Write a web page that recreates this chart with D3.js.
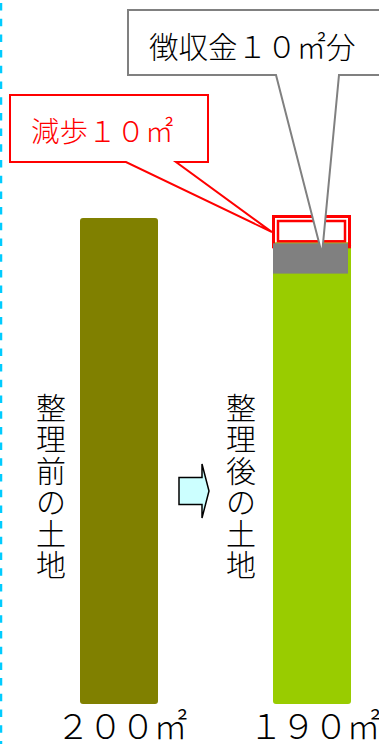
<!DOCTYPE html>
<html>
<head>
<meta charset="utf-8">
<script src="https://cdn.jsdelivr.net/npm/d3@7"></script>
<style>
  body { margin: 0; background: #fff; }
  svg { display: block; }
  text { font-family: "Noto Sans CJK JP", "Noto Sans", sans-serif; font-weight: 300; }
</style>
</head>
<body>
<div id="chart"></div>
<script>
// Land readjustment: land before / after
const stages = ['整理前の土地', '整理後の土地']
const areas = [200, 190]
const areaLabels = ['２００㎡', '１９０㎡']
const reduction = 10   // 減歩
const levy = 10        // 徴収金
const calloutTexts = ['減歩１０㎡', '徴収金１０㎡分']

const width = 379
const height = 744

const svg = d3.select('#chart')
  .append('svg')
  .attr('width', width)
  .attr('height', height)

// Scales
const x = d3.scalePoint()
  .domain(stages)
  .range([119, 312])
const barW = 78

const y = d3.scaleLinear()
  .domain([0, 200])
  .range([704, 218])

// Dashed line on the left edge
svg.append('line')
  .attr('x1', 1).attr('x2', 1)
  .attr('y1', 3).attr('y2', height)
  .attr('stroke', '#00ccff')
  .attr('stroke-width', 2.5)
  .attr('stroke-dasharray', '7.5 8.2')

// Bars
const colors = ['#808000', '#99cc00']
svg.append('g').selectAll('rect')
  .data(stages)
  .enter().append('rect')
  .attr('x', d => x(d) - barW / 2)
  .attr('y', (d, i) => y(areas[i]))
  .attr('width', barW)
  .attr('height', (d, i) => y(0) - y(areas[i]))
  .attr('rx', 3)
  .attr('fill', (d, i) => colors[i])

// Reduction boxes (double red outline)
const xr = x(stages[1]) - barW / 2
const redTop = y(areas[0])
const redH = y(areas[0] - reduction) - y(areas[0])
svg.append('rect')
  .attr('x', xr + 0.5).attr('y', redTop - 1.5)
  .attr('width', barW - 2).attr('height', redH + 6)
  .attr('fill', 'none').attr('stroke', '#ff0000').attr('stroke-width', 3)
svg.append('rect')
  .attr('x', xr + 5).attr('y', redTop + 3)
  .attr('width', barW - 11).attr('height', redH - 4)
  .attr('fill', 'none').attr('stroke', '#ff0000').attr('stroke-width', 2.5)

// Levy (gray) block at the top of the after bar
const grayTop = y(areas[1]) + 1
const grayH = y(0) - y(levy) + 6
svg.append('rect')
  .attr('x', xr).attr('y', grayTop)
  .attr('width', barW - 3).attr('height', grayH)
  .attr('fill', '#808080')

// Vertical labels, one character per line
stages.forEach((s, i) => {
  const cx = x(s) - barW / 2 - (i === 0 ? 29 : 32)
  svg.append('g').selectAll('text')
    .data(s.split(''))
    .enter().append('text')
    .attr('x', cx)
    .attr('y', (c, j) => 419 + j * 31.4)
    .attr('text-anchor', 'middle')
    .attr('font-size', 30)
    .attr('fill', '#000')
    .text(c => c)
})

// Area labels
svg.append('g').selectAll('text')
  .data(areaLabels)
  .enter().append('text')
  .attr('x', (d, i) => x(stages[i]) + 2)
  .attr('y', 739)
  .attr('text-anchor', 'middle')
  .attr('font-size', 34)
  .attr('letter-spacing', -1.5)
  .attr('fill', '#000')
  .text(d => d)

// Arrow
const ax = x(stages[0]) + barW / 2 + 21
const ay = 491
const arrow = [[ax, ay - 13.5], [ax + 23, ay - 13.5], [ax + 23, ay - 27], [ax + 30, ay],
  [ax + 23, ay + 27], [ax + 23, ay + 13.5], [ax, ay + 13.5]]
svg.append('path')
  .attr('d', d3.line()(arrow) + 'Z')
  .attr('fill', '#ccffff')
  .attr('stroke', '#000')
  .attr('stroke-width', 1.5)
  .attr('stroke-linejoin', 'miter')

// Callouts (rect + wedge)
function callout(box, b1, b2, tip, color) {
  const [x0, y0, x1, y1] = box
  const p = d3.path()
  p.moveTo(x0, y0)
  p.lineTo(x1, y0)
  p.lineTo(x1, y1)
  p.lineTo(b2, y1)
  p.lineTo(tip[0], tip[1])
  p.lineTo(b1, y1)
  p.lineTo(x0, y1)
  p.closePath()
  svg.append('path')
    .attr('d', p.toString())
    .attr('fill', '#fff')
    .attr('stroke', color)
    .attr('stroke-width', 2)
}

// 減歩 callout
callout([10, 95, 208, 162], 126, 176, [xr - 1, redTop + redH / 2 + 2], '#ff0000')
svg.append('text')
  .attr('x', 31).attr('y', 142)
  .attr('font-size', 28.5)
  .attr('fill', '#ff0000')
  .text(calloutTexts[0])

// 徴収金 callout
callout([128, 10, 392, 75], 276, 339, [x(stages[1]) + 10, grayTop + 11], '#808080')
svg.append('text')
  .attr('x', 149).attr('y', 58)
  .attr('font-size', 29.5)
  .attr('fill', '#000')
  .text(calloutTexts[1])
</script>
</body>
</html>
